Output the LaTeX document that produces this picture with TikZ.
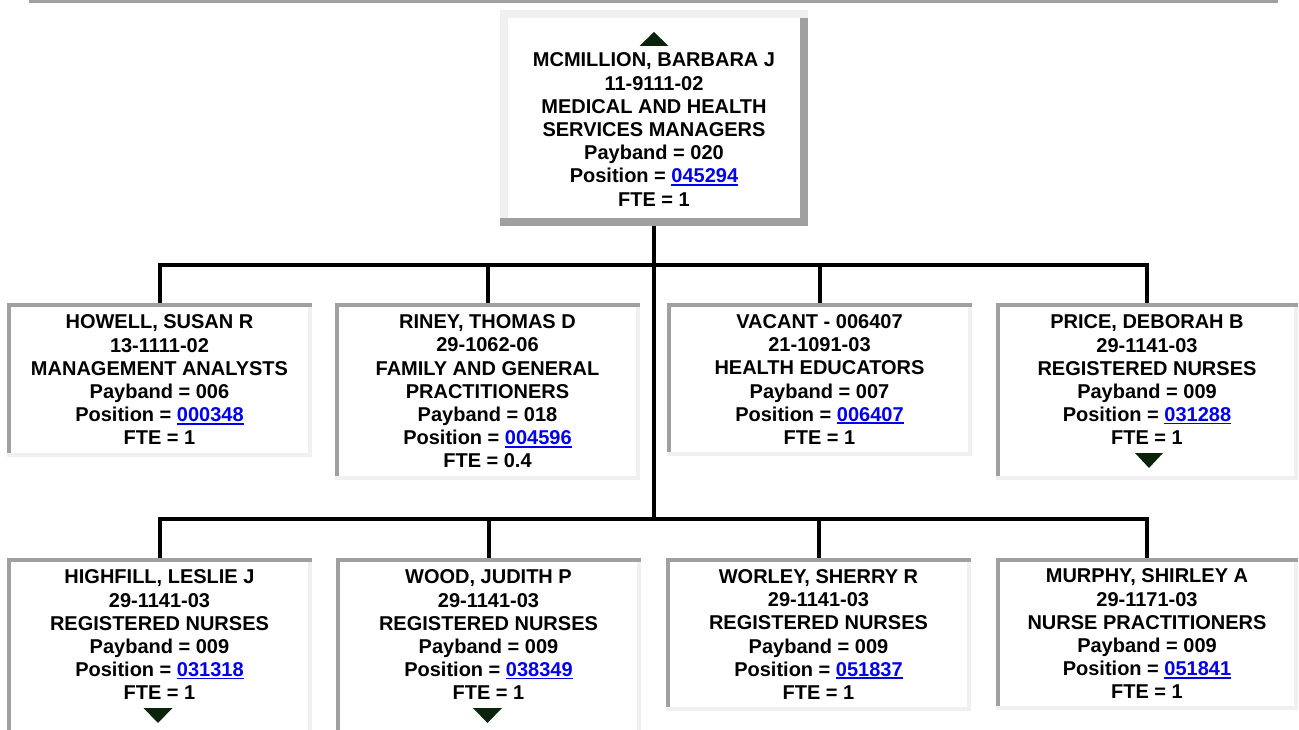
\documentclass[tikz,border=0pt]{standalone}
\usepackage{fontspec}
\setmainfont{Liberation Sans}
\definecolor{bevdark}{RGB}{160,160,160}
\definecolor{bevlight}{RGB}{240,240,240}
\definecolor{linkblue}{RGB}{0,0,238}
\definecolor{arrowgreen}{RGB}{10,35,10}
\newcommand\lnk[1]{{\color{linkblue}\setbox0=\hbox{#1}\rlap{\rule[-2.8pt]{\wd0}{1.8pt}}\box0}}
\newcommand\trisp{\rule{0pt}{14pt}}
% bevel: node, width, colour of top+left, colour of bottom+right
\newcommand\bevel[4]{%
  \fill[#3] (#1.north west) rectangle ([yshift=-#2pt]#1.north east);
  \fill[#4] ([yshift=#2pt]#1.south west) rectangle (#1.south east);
  \fill[#3] ([yshift=-#2pt]#1.north west) rectangle ([xshift=#2pt,yshift=#2pt]#1.south west);
  \fill[#4] ([xshift=-#2pt,yshift=-#2pt]#1.north east) rectangle ([yshift=#2pt]#1.south east);
}
\tikzset{
  person/.style={fill=white, inner sep=0pt, outer sep=0pt, align=center,
    text=black, font=\fontsize{20}{23.2}\selectfont\bfseries,
    minimum width=305pt},
  conn/.style={draw=black, line width=4pt, line join=miter},
  tri/.style={fill=arrowgreen},
}
\begin{document}
\begin{tikzpicture}[x=1pt,y=-1pt]
\useasboundingbox (0,0) rectangle (1299,730);
\clip (0,0) rectangle (1299,730);
\fill[bevdark] (29,0) rectangle (1278,3);

% boss
\node[person, minimum width=308pt, minimum height=216pt] (top) at (654,118)
 {\trisp\\MCMILLION, BARBARA J\\11-9111-02\\MEDICAL AND HEALTH\\SERVICES MANAGERS\\Payband = 020\\Position = \lnk{045294}\\FTE = 1};
\bevel{top}{8}{bevlight}{bevdark}

% row 1
\node[person, minimum height=154pt] (b1) at (159.5,380)
 {HOWELL, SUSAN R\\13-1111-02\\MANAGEMENT ANALYSTS\\Payband = 006\\Position = \lnk{000348}\\FTE = 1};
\node[person, minimum height=177pt] (b2) at (487.5,391.5)
 {RINEY, THOMAS D\\29-1062-06\\FAMILY AND GENERAL\\PRACTITIONERS\\Payband = 018\\Position = \lnk{004596}\\FTE = 0.4};
\node[person, minimum height=153pt] (b3) at (819.5,379.5)
 {VACANT - 006407\\21-1091-03\\HEALTH EDUCATORS\\Payband = 007\\Position = \lnk{006407}\\FTE = 1};
\node[person, minimum width=302pt, minimum height=177pt] (b4) at (1147,391.5)
 {PRICE, DEBORAH B\\29-1141-03\\REGISTERED NURSES\\Payband = 009\\Position = \lnk{031288}\\FTE = 1\\\trisp};

% row 2
\node[person, minimum height=177pt] (b5) at (159.5,646.5)
 {HIGHFILL, LESLIE J\\29-1141-03\\REGISTERED NURSES\\Payband = 009\\Position = \lnk{031318}\\FTE = 1\\\trisp};
\node[person, minimum height=177pt] (b6) at (488.5,646.5)
 {WOOD, JUDITH P\\29-1141-03\\REGISTERED NURSES\\Payband = 009\\Position = \lnk{038349}\\FTE = 1\\\trisp};
\node[person, minimum height=153pt] (b7) at (818.5,634.5)
 {WORLEY, SHERRY R\\29-1141-03\\REGISTERED NURSES\\Payband = 009\\Position = \lnk{051837}\\FTE = 1};
\node[person, minimum width=302pt, minimum height=152pt] (b8) at (1147,634)
 {MURPHY, SHIRLEY A\\29-1171-03\\NURSE PRACTITIONERS\\Payband = 009\\Position = \lnk{051841}\\FTE = 1};

\foreach \n in {b1,b2,b3,b4,b5,b6,b7,b8} {\bevel{\n}{4}{bevdark}{bevlight}}

% triangles
\fill[tri] (639.5,46) -- (668.5,46) -- (654,32) -- cycle;
\fill[tri] (1135,453) -- (1163,453) -- (1149,468) -- cycle;
\fill[tri] (143.5,708) -- (172.5,708) -- (158,723) -- cycle;
\fill[tri] (473,708) -- (502,708) -- (487.5,723) -- cycle;

% connectors
\coordinate (bus1) at (654,265);
\coordinate (bus2) at (654,519);
\draw[conn] (top.south) -- (bus2);
\draw[conn] (b1.north) -- (b1.north |- bus1) -- (b4.north |- bus1) -- (b4.north);
\draw[conn] (b2.north) -- (b2.north |- bus1);
\draw[conn] (b3.north) -- (b3.north |- bus1);
\draw[conn] (b5.north) -- (b5.north |- bus2) -- (b8.north |- bus2) -- (b8.north);
\draw[conn] (b6.north) -- (b6.north |- bus2);
\draw[conn] (b7.north) -- (b7.north |- bus2);
\end{tikzpicture}
\end{document}
